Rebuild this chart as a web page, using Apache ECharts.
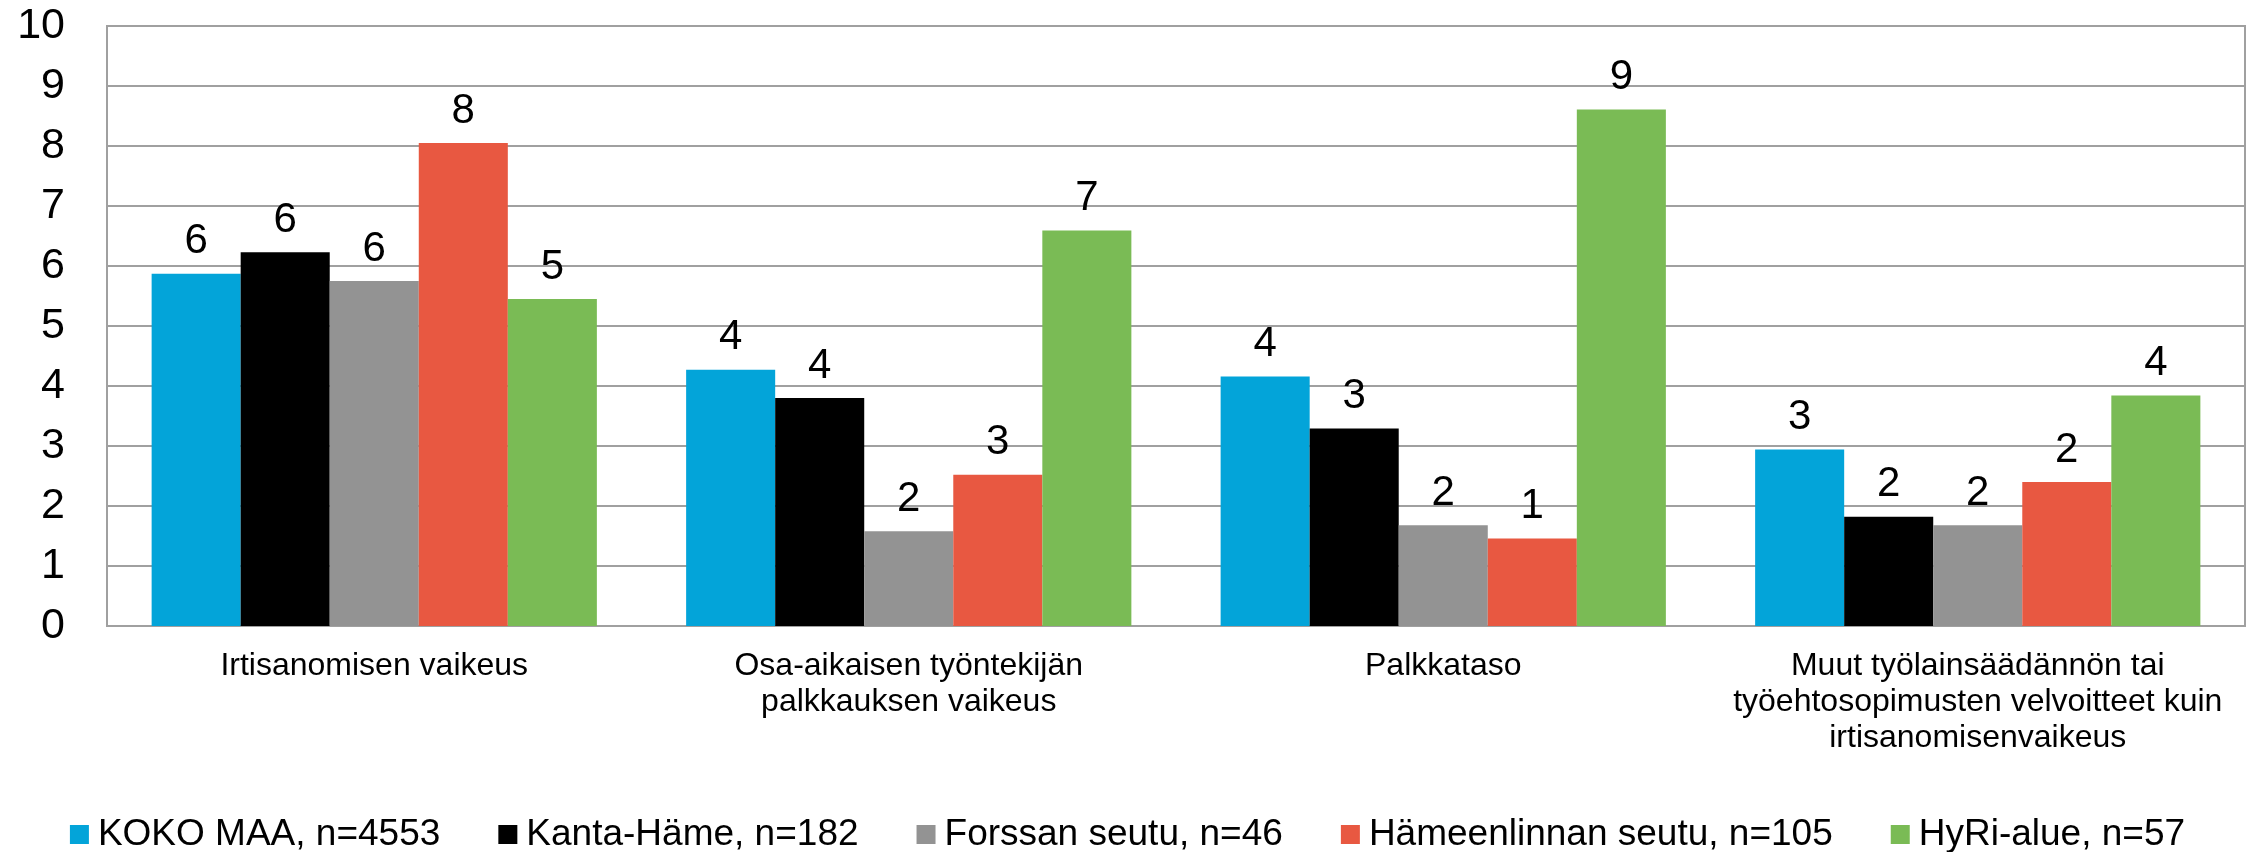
<!DOCTYPE html>
<html>
<head>
<meta charset="utf-8">
<script src="https://cdn.jsdelivr.net/npm/echarts@6/dist/echarts.min.js"></script>
<style>
  html, body { margin: 0; padding: 0; background: #fff; }
  #chart { width: 2255px; height: 852px; }
</style>
</head>
<body>
<div id="chart"></div>
<script>
// categories on the x axis
const categories = [
  'Irtisanomisen vaikeus',
  'Osa-aikaisen työntekijän\npalkkauksen vaikeus',
  'Palkkataso',
  'Muut työlainsäädännön tai\ntyöehtosopimusten velvoitteet kuin\nirtisanomisenvaikeus'
];

// one array per region
const kokoMaa = [5.87, 4.27, 4.16, 2.94];
const kantaHame = [6.23, 3.80, 3.29, 1.82];
const forssa = [5.75, 1.58, 1.68, 1.68];
const hameenlinna = [8.05, 2.52, 1.46, 2.40];
const hyri = [5.45, 6.59, 8.61, 3.84];

const seriesNames = [
  'KOKO MAA, n=4553',
  'Kanta-Häme, n=182',
  'Forssan seutu, n=46',
  'Hämeenlinnan seutu, n=105',
  'HyRi-alue, n=57'
];
const seriesData = [kokoMaa, kantaHame, forssa, hameenlinna, hyri];
const colors = ['#03a4d9', '#000000', '#939393', '#e85841', '#7abb55'];

const font = '"Liberation Sans", Arial, sans-serif';

let myChart = echarts.init(document.getElementById('chart'));

myChart.setOption({
  animation: false,
  color: colors,
  grid: {
    left: 107,
    right: 10,
    top: 26,
    bottom: 226,
    show: true,
    borderColor: '#a0a0a0',
    borderWidth: 2
  },
  legend: {
    top: 811,
    left: 'center',
    itemWidth: 19,
    itemHeight: 19,
    itemGap: 58,
    icon: 'rect',
    textStyle: {
      fontFamily: font,
      fontSize: 37,
      color: '#000',
      padding: [0, 0, 0, 4]
    },
    data: seriesNames
  },
  xAxis: {
    type: 'category',
    data: categories,
    axisTick: { show: false },
    axisLine: { lineStyle: { color: '#a0a0a0', width: 2 } },
    axisLabel: {
      interval: 0,
      margin: 22,
      fontFamily: font,
      fontSize: 32,
      lineHeight: 36,
      color: '#000',
      align: 'center'
    }
  },
  yAxis: {
    type: 'value',
    min: 0,
    max: 10,
    interval: 1,
    axisLine: { show: false },
    axisTick: { show: false },
    splitLine: { lineStyle: { color: '#a0a0a0', width: 2 } },
    axisLabel: {
      margin: 42,
      fontFamily: font,
      fontSize: 43,
      color: '#000'
    }
  },
  series: seriesNames.map(function (name, i) {
    return {
      name: name,
      type: 'bar',
      data: seriesData[i],
      barGap: '0%',
      barCategoryGap: '16.7%',
      label: {
        show: true,
        position: 'top',
        distance: 11,
        fontFamily: font,
        fontSize: 42,
        color: '#000',
        formatter: function (p) { return Math.round(p.value); }
      }
    };
  })
});
</script>
</body>
</html>
